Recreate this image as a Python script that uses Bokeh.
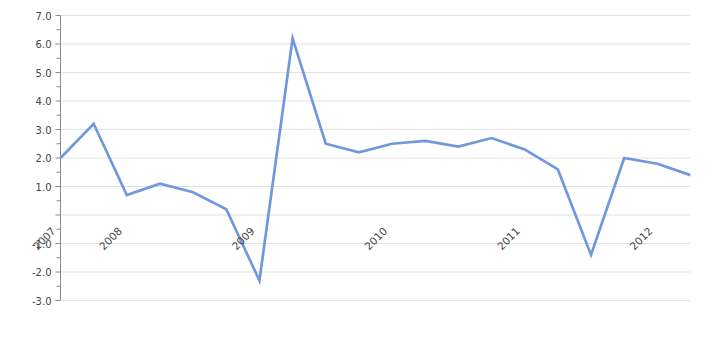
import numpy as np
from bokeh.plotting import figure
from bokeh.models import Range1d, ColumnDataSource
from bokeh.core.properties import value
from bokeh.embed import file_html
from bokeh.resources import INLINE

# quarterly values, 2007 Q3 .. 2012 Q2
values = [2.0, 3.2, 0.7, 1.1, 0.8, 0.2, -2.3, 6.2, 2.5, 2.2,
          2.5, 2.6, 2.4, 2.7, 2.3, 1.6, -1.4, 2.0, 1.8, 1.4]
year_labels = ["2007", "2008", "2009", "2010", "2011", "2012"]
year_label_index = [0, 2, 6, 10, 14, 18]
y_ticks = [-3, -2, -1, 0, 1, 2, 3, 4, 5, 6, 7]
y_tick_labels = ["-3.0", "-2.0", "-1.0", "", "1.0", "2.0", "3.0", "4.0", "5.0", "6.0", "7.0"]
y_minor = [-2.5, -1.5, -0.5, 0.5, 1.5, 2.5, 3.5, 4.5, 5.5, 6.5]

x = list(range(len(values)))

# layout (pixels): frame spans 20..690 horizontally, 5..310 vertically;
# first point sits at x=60, y=7 at 15px, y=-3 at 300px
W, H = 720, 350
FL, FR, FT, FB = 20, 690, 5, 310
AX_X, TOP_Y, BOT_Y = 60, 15, 300
n = len(values)
xu = (FR - AX_X) / (n - 1)
yu = (BOT_Y - TOP_Y) / (max(y_ticks) - min(y_ticks))
x_range = Range1d(-(AX_X - FL) / xu, n - 1)
y_range = Range1d(min(y_ticks) - (FB - BOT_Y) / yu, max(y_ticks) + (TOP_Y - FT) / yu)

p = figure(width=W, height=H, output_backend="svg", toolbar_location=None,
           x_range=x_range, y_range=y_range,
           min_border_left=FL, min_border_right=W - FR, min_border_top=FT,
           min_border_bottom=H - FB)
p.outline_line_color = None
p.background_fill_color = "white"
p.border_fill_color = "white"
p.axis.visible = False
p.grid.visible = False

axis_color = "#8a8a8a"
font = value("DejaVu Sans")

# horizontal gridlines
p.segment(x0=[0] * len(y_ticks), x1=[n - 1] * len(y_ticks), y0=y_ticks, y1=y_ticks,
          line_color="#e2e2e2", line_width=1)

# y axis line and ticks
p.segment(x0=[0], x1=[0], y0=[min(y_ticks)], y1=[max(y_ticks)], line_color=axis_color, line_width=1)
p.ray(x=[0] * len(y_ticks), y=y_ticks, length=5, length_units="screen", angle=np.pi,
      line_color=axis_color, line_width=1)
p.ray(x=[0] * len(y_minor), y=y_minor, length=4, length_units="screen", angle=np.pi,
      line_color=axis_color, line_width=1)
p.text(x=[0] * len(y_ticks), y=y_ticks, text=y_tick_labels, x_offset=-9,
       text_align="right", text_baseline="middle",
       text_font=font, text_font_size="10px", text_color="#444444")

# data line
p.line(x, values, line_color="#7198dc", line_width=2.7, line_join="miter")

# year labels
src = ColumnDataSource(dict(x=year_label_index, y=[0] * len(year_labels), t=year_labels))
p.text("x", "y", text="t", source=src, angle=np.pi / 4,
       text_align="right", text_baseline="middle",
       x_offset=-7, y_offset=14,
       text_font=font, text_font_size="10.5px", text_color="#444444")

open("out.html", "w").write(file_html(p, INLINE))
